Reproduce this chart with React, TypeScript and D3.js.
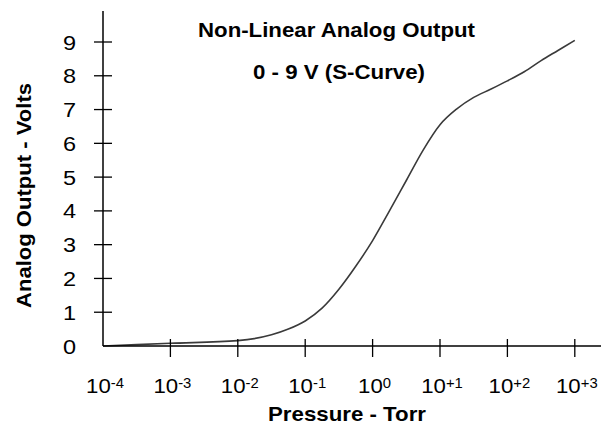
import React from 'react';
import * as d3 from 'd3';

// pressure (Torr) vs analog output (V)
const pressures = [
  1e-4, 1e-3, 1e-2, 10 ** -1.5, 10 ** -1.25, 1e-1, 10 ** -0.75, 10 ** -0.5, 10 ** -0.25, 1,
  10 ** 0.25, 10 ** 0.5, 10 ** 0.75, 10, 10 ** 1.25, 10 ** 1.5, 10 ** 1.75, 100, 10 ** 2.25,
  10 ** 2.5, 10 ** 2.75, 1000,
];
const volts = [
  0.0, 0.08, 0.16, 0.33, 0.5, 0.74, 1.12, 1.68, 2.36, 3.12,
  4.0, 4.9, 5.8, 6.55, 7.02, 7.36, 7.6, 7.85, 8.12,
  8.45, 8.75, 9.05,
];

const xTickValues = [1e-4, 1e-3, 1e-2, 1e-1, 1, 10, 100, 1000];
const xTickExponents = ['-4', '-3', '-2', '-1', '0', '+1', '+2', '+3'];
const yTickValues = [0, 1, 2, 3, 4, 5, 6, 7, 8, 9];

const titleLines = ['Non-Linear Analog Output', '0 - 9 V (S-Curve)'];
const xLabel = 'Pressure - Torr';
const yLabel = 'Analog Output - Volts';

const W = 603;
const H = 425;
const font = '"Liberation Sans", Arial, sans-serif';

const App: React.FC = () => {
  const x = d3.scaleLog().domain([1e-4, 1e3]).range([103, 574.8]);
  const y = d3.scaleLinear().domain([0, 9]).range([346, 42]);

  const data = pressures.map((p, i) => ({ p, v: volts[i] }));
  const line = d3
    .line<{ p: number; v: number }>()
    .x((d) => x(d.p))
    .y((d) => y(d.v))
    .curve(d3.curveMonotoneX);

  const x0 = x(1e-4);
  const y0 = y(0);

  return (
    <svg
      width={W}
      height={H}
      style={{ position: 'absolute', left: 0, top: 0, background: '#fff' }}
      fontFamily={font}
    >
      <rect width={W} height={H} fill="#fff" />

      {/* curve */}
      <path d={line(data) || ''} fill="none" stroke="#3a3a3a" strokeWidth={1.6} />

      {/* axes */}
      <line x1={x0} y1={11} x2={x0} y2={y0} stroke="#000" strokeWidth={1.5} />
      <line x1={x0} y1={y0} x2={601} y2={y0} stroke="#000" strokeWidth={1.5} />

      {yTickValues.map((v) => (
        <g key={v}>
          {v > 0 && (
            <line x1={94} x2={112} y1={y(v)} y2={y(v)} stroke="#000" strokeWidth={1.3} />
          )}
          <text
            transform={`translate(76,${y(v) + 7.5}) scale(1.12,1)`}
            textAnchor="end"
            fontSize={21}
            fill="#000"
          >
            {v}
          </text>
        </g>
      ))}

      {xTickValues.map((p, i) => (
        <g key={p}>
          {i > 0 && (
            <line x1={x(p)} x2={x(p)} y1={339} y2={357} stroke="#000" strokeWidth={1.3} />
          )}
          <text
            transform={`translate(${x(p) + 2},393) scale(1.06,1)`}
            textAnchor="middle"
            fontSize={21}
            fill="#000"
          >
            10
            <tspan fontSize={14} dy={-5.5}>
              {xTickExponents[i]}
            </tspan>
          </text>
        </g>
      ))}

      {/* titles */}
      <text
        x={198}
        y={37}
        fontSize={20}
        fontWeight="bold"
        fill="#000"
        textLength={277}
        lengthAdjust="spacingAndGlyphs"
      >
        {titleLines[0]}
      </text>
      <text
        x={253}
        y={79}
        fontSize={20}
        fontWeight="bold"
        fill="#000"
        textLength={172}
        lengthAdjust="spacingAndGlyphs"
      >
        {titleLines[1]}
      </text>

      <text
        x={268}
        y={421}
        fontSize={20.5}
        fontWeight="bold"
        fill="#000"
        textLength={158}
        lengthAdjust="spacingAndGlyphs"
      >
        {xLabel}
      </text>
      <text
        transform="translate(31,308) rotate(-90)"
        fontSize={20.5}
        fontWeight="bold"
        fill="#000"
        textLength={225}
        lengthAdjust="spacingAndGlyphs"
      >
        {yLabel}
      </text>
    </svg>
  );
};

export default App;
